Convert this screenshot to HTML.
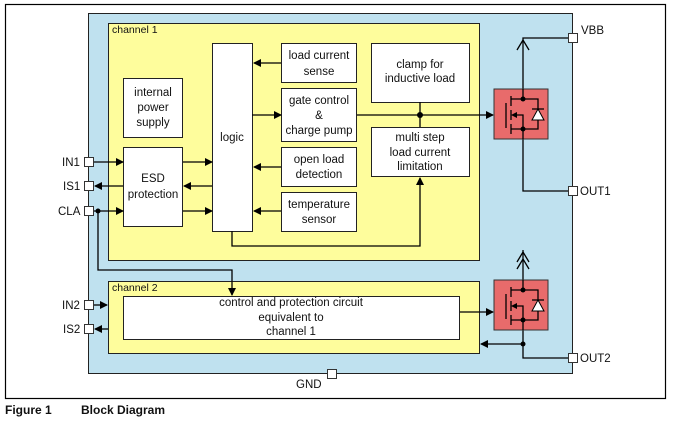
<!DOCTYPE html>
<html><head><meta charset="utf-8"><style>
body{margin:0;background:#fff;width:673px;height:423px;overflow:hidden}
svg{display:block}
text{font-family:"Liberation Sans",Arial,sans-serif;font-size:11.5px;fill:#111}
.c{text-anchor:middle}
</style></head><body>
<svg width="673" height="423" viewBox="0 0 673 423">
<defs>
<marker id="a" markerWidth="8" markerHeight="8" refX="7" refY="4" orient="auto" markerUnits="userSpaceOnUse"><path d="M0,0 L8,4 L0,8 z" fill="#000"/></marker>
</defs>
<rect x="5.5" y="4.5" width="660" height="394" fill="#fff" stroke="#000" stroke-width="1.2"/>
<rect x="88.5" y="13.5" width="484" height="360" fill="#bfe1ef" stroke="#222"/>
<rect x="108.5" y="23.5" width="371" height="237" fill="#fefd9c" stroke="#222"/>
<text x="112" y="33" style="font-size:10.5px">channel 1</text>
<rect x="108.5" y="281.5" width="371" height="72" fill="#fefd9c" stroke="#222"/>
<text x="112" y="291" style="font-size:10.5px">channel 2</text>
<g fill="#fff" stroke="#222">
<rect x="212.5" y="43.5" width="40" height="188"/>
<rect x="281.5" y="43.5" width="75" height="39"/>
<rect x="281.5" y="88.5" width="75" height="53"/>
<rect x="281.5" y="147.5" width="75" height="39"/>
<rect x="281.5" y="192.5" width="75" height="39"/>
<rect x="123.5" y="78.5" width="59" height="59"/>
<rect x="123.5" y="147.5" width="59" height="79"/>
<rect x="371.5" y="43.5" width="98" height="59"/>
<rect x="371.5" y="127.5" width="98" height="49"/>
<rect x="123.5" y="296.5" width="336" height="43"/>
</g>
<text x="232" y="141" class="c">logic</text>
<text x="319" y="59" class="c">load current</text><text x="319" y="75" class="c">sense</text>
<text x="319" y="104" class="c">gate control</text><text x="319" y="119" class="c">&amp;</text><text x="319" y="134" class="c">charge pump</text>
<text x="319" y="163" class="c">open load</text><text x="319" y="178" class="c">detection</text>
<text x="319" y="208" class="c">temperature</text><text x="319" y="223" class="c">sensor</text>
<text x="153" y="96" class="c">internal</text><text x="153" y="111" class="c">power</text><text x="153" y="126" class="c">supply</text>
<text x="153" y="182" class="c">ESD</text><text x="153" y="198" class="c">protection</text>
<text x="420" y="68" class="c">clamp for</text><text x="420" y="82" class="c">inductive load</text>
<text x="420" y="141" class="c">multi step</text><text x="420" y="156" class="c">load current</text><text x="420" y="170" class="c">limitation</text>
<text x="291" y="306" class="c">control and protection circuit</text>
<text x="291" y="321" class="c">equivalent to</text>
<text x="291" y="335" class="c">channel 1</text>
<g stroke="#000" stroke-width="1.3" fill="none">
<line x1="281" y1="63" x2="254" y2="63" marker-end="url(#a)"/>
<line x1="281" y1="167" x2="254" y2="167" marker-end="url(#a)"/>
<line x1="281" y1="211" x2="254" y2="211" marker-end="url(#a)"/>
<line x1="252" y1="115" x2="281" y2="115" marker-end="url(#a)"/>
<line x1="183" y1="162" x2="212" y2="162" marker-end="url(#a)"/>
<line x1="212" y1="186" x2="184" y2="186" marker-end="url(#a)"/>
<line x1="183" y1="211" x2="212" y2="211" marker-end="url(#a)"/>
<line x1="94" y1="162" x2="123" y2="162" marker-end="url(#a)"/>
<line x1="123" y1="186" x2="95" y2="186" marker-end="url(#a)"/>
<line x1="94" y1="211" x2="123" y2="211" marker-end="url(#a)"/>
<polyline points="98,211 98,270 232,270 232,295" marker-end="url(#a)"/>
<line x1="357" y1="115" x2="493" y2="115" marker-end="url(#a)"/>
<line x1="420" y1="102" x2="420" y2="127"/>
<polyline points="232,231 232,246 420,246 420,178" marker-end="url(#a)"/>
<line x1="94" y1="305" x2="107" y2="305" marker-end="url(#a)"/>
<line x1="108" y1="329" x2="95" y2="329" marker-end="url(#a)"/>
<line x1="460" y1="312" x2="493" y2="312" marker-end="url(#a)"/>
<polyline points="568,38 523,38 523,89"/>
<polyline points="517,50 523,40 529,50 M517,57 523,47 529,57"/>
<polyline points="523,139 523,191 568,191"/>
<polyline points="523,250 523,280"/>
<path d="M517,262 523,252 529,262 M517,269 523,259 529,269"/>
<polyline points="523,329 523,358 568,358"/>
<line x1="523" y1="344" x2="481" y2="344" marker-end="url(#a)"/>
</g>
<g fill="#000"><circle cx="98" cy="211" r="2.5"/><circle cx="420" cy="115" r="3"/><circle cx="523" cy="344" r="2.5"/></g>
<!-- mosfets -->
<g id="m">
<rect x="494" y="89" width="54" height="50" fill="#e86b6b" stroke="#333"/>
<g stroke="#000" stroke-width="1.3" fill="none">
<line x1="506" y1="103" x2="506" y2="128"/>
<line x1="511" y1="96" x2="511" y2="106"/><line x1="511" y1="110" x2="511" y2="120"/><line x1="511" y1="124" x2="511" y2="134"/>
<polyline points="511,99 523,99 538,99 538,129 523,129 511,129"/>
<polyline points="523,89 523,99"/><polyline points="523,129 523,139"/>
<polyline points="523,129 523,115 514,115"/>
<line x1="532" y1="109" x2="544" y2="109"/>
</g>
<path d="M511,115 L517,112 L517,118 z" fill="#000"/>
<path d="M538,109 L544,120 L532,120 z" fill="#fff" stroke="#000"/>
<circle cx="523" cy="99" r="2.5" fill="#000"/><circle cx="523" cy="129" r="2.5" fill="#000"/>
</g>
<use href="#m" transform="translate(0,191)"/>
<g fill="#fff" stroke="#333">
<rect x="84.5" y="157.5" width="9" height="9"/>
<rect x="84.5" y="181.5" width="9" height="9"/>
<rect x="84.5" y="206.5" width="9" height="9"/>
<rect x="84.5" y="300.5" width="9" height="9"/>
<rect x="84.5" y="324.5" width="9" height="9"/>
<rect x="568.5" y="33.5" width="9" height="9"/>
<rect x="568.5" y="186.5" width="9" height="9"/>
<rect x="568.5" y="353.5" width="9" height="9"/>
<rect x="327.5" y="369.5" width="9" height="9"/>
</g>
<text x="62" y="166">IN1</text><text x="63" y="190">IS1</text><text x="58" y="215">CLA</text>
<text x="62" y="309">IN2</text><text x="63" y="333">IS2</text>
<text x="581" y="34">VBB</text><text x="580" y="195">OUT1</text><text x="580" y="362">OUT2</text>
<text x="296" y="388">GND</text>
<text x="5" y="414" style="font-weight:bold;font-size:12px">Figure 1</text>
<text x="81" y="414" style="font-weight:bold;font-size:12px">Block Diagram</text>
</svg>
</body></html>
